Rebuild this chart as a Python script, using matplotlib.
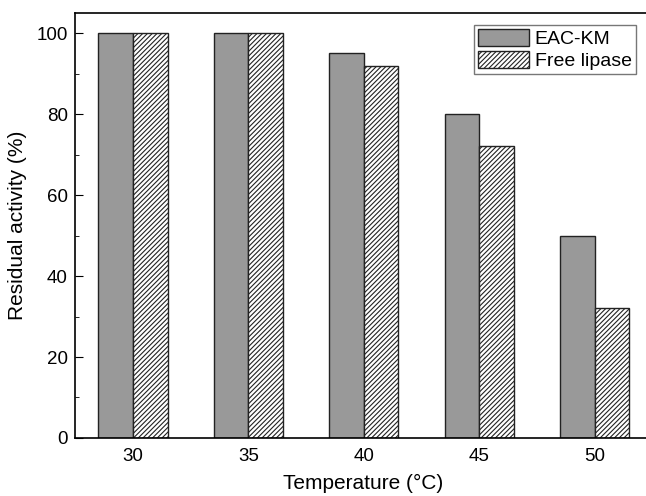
import numpy as np
import matplotlib.pyplot as plt

plt.rcParams['font.family'] = ['Liberation Sans', 'DejaVu Sans']
plt.rcParams['hatch.linewidth'] = 0.8

temps = [30, 35, 40, 45, 50]
eac_km = [100, 100, 95, 80, 50]
free_lipase = [100, 100, 92, 72, 32]

fig = plt.figure(figsize=(6.46, 4.96), dpi=100)
ax = fig.add_axes([0.116, 0.117, 0.893, 0.857])

x = np.array(temps)
w = 1.5
ax.bar(x - w / 2, eac_km, width=w, color='#999999', edgecolor='#222222', linewidth=1, label='EAC-KM')
ax.bar(x + w / 2, free_lipase, width=w, color='white', edgecolor='#222222', linewidth=1,
       hatch='///////', label='Free lipase')

ax.set_xlim(27.48, 52.48)
ax.set_ylim(0, 105)
ax.set_xticks(temps)
ax.set_yticks([0, 20, 40, 60, 80, 100])
ax.set_yticks([10, 30, 50, 70, 90], minor=True)
ax.tick_params(axis='x', length=0, labelsize=13.5, pad=7)
ax.tick_params(axis='y', direction='in', length=6, labelsize=13.5, pad=5)
ax.tick_params(axis='y', which='minor', direction='in', length=3)
ax.spines['right'].set_visible(False)
for s in ['left', 'bottom', 'top']:
    ax.spines[s].set_linewidth(1.2)

ax.set_xlabel('Temperature (°C)', fontsize=15, labelpad=7)
ax.set_ylabel('Residual activity (%)', fontsize=15, labelpad=7)

ax.legend(loc='upper right', bbox_to_anchor=(0.982, 0.985), fontsize=14, fancybox=False,
          edgecolor='#555555', handlelength=2.6, handleheight=1.0, borderpad=0.2,
          labelspacing=0.12, handletextpad=0.3, borderaxespad=0.3)

fig.savefig('out.png', dpi=100)
